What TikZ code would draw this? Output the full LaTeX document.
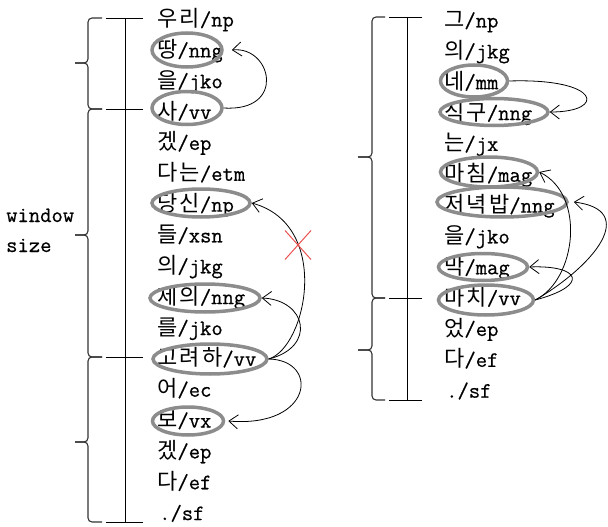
\documentclass[tikz,border=0pt]{standalone}
\usepackage{fontspec}
\setmonofont[FakeBold=0.6]{Latin Modern Mono}
\newfontfamily\krfont[LetterSpace=10]{Noto Sans CJK KR}
\usetikzlibrary{shapes.geometric,shapes.misc,arrows.meta}
\newcommand\kw[1]{{\krfont\fontsize{22}{26}\selectfont #1}}
\definecolor{ringgray}{RGB}{140,140,140}
\definecolor{crossred}{RGB}{235,80,80}

\begin{document}
\begin{tikzpicture}[x=1pt,y=-1pt,
  lab/.style={anchor=base west, inner sep=0pt, font=\ttfamily\fontsize{22}{26}\selectfont},
  side/.style={anchor=base west, inner sep=0pt, font=\ttfamily\fontsize{22}{26}\selectfont},
  ring/.style={ellipse, draw=ringgray, line width=3.5pt, inner sep=0pt},
  dep/.style={-{Straight Barb[length=9pt,width=14pt]}, line width=0.8pt},
  bracket/.style={draw=black!80, line width=1.1pt, rounded corners=4pt},
  rule/.style={draw=black, line width=0.9pt}]

\useasboundingbox (0,0) rectangle (608,527);

% ---------- left sentence ----------
\foreach \k/\ko/\tg in {0/우리/np, 1/땅/nng, 2/을/jko, 3/사/vv, 4/겠/ep,
    5/다는/etm, 6/당신/np, 7/들/xsn, 8/의/jkg, 9/제의/nng, 10/를/jko,
    11/고려하/vv, 12/어/ec, 13/보/vx, 14/겠/ep, 15/다/ef}
  \node[lab] (L\k) at (157,18+30.85*\k+8.5) {\kw{\ko}/\tg};
\node[lab] (L16) at (159,18+30.85*16+8.5) {./sf};

% ---------- right sentence ----------
\foreach \k/\ko/\tg in {0/그/np, 1/의/jkg, 2/네/mm, 3/식구/nng, 4/는/jx,
    5/마침/mag, 6/저녁밥/nng, 7/을/jko, 8/막/mag, 9/마치/vv, 10/었/ep,
    11/다/ef}
  \node[lab] (R\k) at (444,19+30.85*\k+8.5) {\kw{\ko}/\tg};
\node[lab] (R12) at (446,19+30.85*12+8.5) {./sf};

% ---------- window brackets, left ----------
\node[side] (win) at (6,222) {window};
\node[side] (size) at (6,252) {size};

\draw[bracket] (102,18) -- (88,18) -- (88,63) -- (75,63);
\draw[bracket] (102,109) -- (88,109) -- (88,63) -- (75,63);
\draw[bracket] (102,109) -- (88,109) -- (88,235) -- (75,235);
\draw[bracket] (102,357) -- (88,357) -- (88,235) -- (75,235);
\draw[bracket] (102,357) -- (88,357) -- (88,442) -- (75,442);
\draw[bracket] (102,522) -- (88,522) -- (88,442) -- (75,442);
\draw[rule] (125,18) -- (125,522);
\foreach \y in {18,109,357,522}
  \draw[rule] (106,\y) -- (143,\y);

% ---------- window brackets, right ----------
\draw[bracket] (385,17) -- (372,17) -- (372,157) -- (358,157);
\draw[bracket] (385,298) -- (372,298) -- (372,157) -- (358,157);
\draw[bracket] (385,298) -- (372,298) -- (372,350) -- (358,350);
\draw[bracket] (385,400) -- (372,400) -- (372,350) -- (358,350);
\draw[rule] (407,17) -- (407,400);
\foreach \y in {17,298,400}
  \draw[rule] (389,\y) -- (422,\y);

% ---------- highlighted morphemes ----------
\node[ring, minimum width=70pt,  minimum height=34pt] (EL1)  at (187,50)  {};
\node[ring, minimum width=70pt,  minimum height=33pt] (EL3)  at (187,108) {};
\node[ring, minimum width=98pt,  minimum height=28pt] (EL6)  at (201,203) {};
\node[ring, minimum width=110pt, minimum height=28pt] (EL9)  at (205,298) {};
\node[ring, minimum width=114pt, minimum height=30pt] (EL11) at (210,359) {};
\node[ring, minimum width=71pt,  minimum height=28pt] (EL13) at (188,421) {};

\node[ring, minimum width=67pt,  minimum height=32pt] (ER2) at (474,81)  {};
\node[ring, minimum width=108pt, minimum height=27pt] (ER3) at (494,112) {};
\node[ring, minimum width=97pt,  minimum height=30pt] (ER5) at (489,172) {};
\node[ring, minimum width=130pt, minimum height=30pt] (ER6) at (502,202) {};
\node[ring, minimum width=89pt,  minimum height=27pt] (ER8) at (483,267) {};
\node[ring, minimum width=95pt,  minimum height=30pt] (ER9) at (486,300) {};

% ---------- dependency arcs ----------
\draw[dep] (EL3.east) .. controls +(63,4) and +(40,-4) .. ([xshift=8pt]EL1.east);
\draw[dep] (EL11.east) .. controls +(38,-12) and +(80,22) .. (EL6.east);
\draw[dep] (EL11.east) .. controls +(48,-12) and +(45,2) .. (EL9.east);
\draw[dep] (EL11.east) .. controls +(51,1) and +(85,7) .. ([xshift=3pt]EL13.east);

\draw[dep] (ER2.east) .. controls +(92,-3) and +(57,0) .. (ER3.east);
\draw[dep] (ER9.east) .. controls +(41,-20) and +(47,23) .. (ER5.east);
\draw[dep] (ER9.east) .. controls +(60,-35) and +(65,8) .. ([xshift=5pt]ER6.east);
\draw[dep] (ER9.east) .. controls +(56,-15) and +(50,-2) .. (ER8.east);

% rejected arc
\node[cross out, draw=crossred, line width=1pt, minimum width=25pt,
      minimum height=28pt, inner sep=0pt] (rej) at (298,245) {};
\end{tikzpicture}
\end{document}
